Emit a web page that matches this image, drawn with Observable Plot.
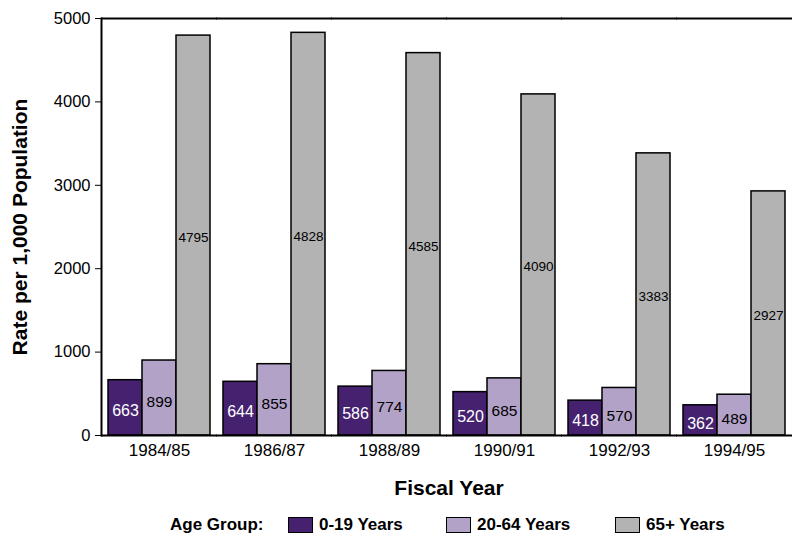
<!DOCTYPE html>
<html><head><meta charset="utf-8">
<script src="https://cdn.jsdelivr.net/npm/d3@7"></script>
<script src="https://cdn.jsdelivr.net/npm/@observablehq/plot@0.6"></script>
<style>
body{margin:0;background:#fff;font-family:"Liberation Sans",Arial,sans-serif;color:#000;}
#wrap{position:relative;width:793px;height:538px;overflow:hidden;}
#chart svg{display:block;}
#ytitle{position:absolute;left:20px;top:227px;transform:translate(-50%,-50%) rotate(-90deg);font-weight:bold;font-size:21px;white-space:nowrap;}
#xtitle{position:absolute;left:449px;top:488px;transform:translate(-50%,-50%);font-weight:bold;font-size:21px;white-space:nowrap;}
.lg{position:absolute;font-weight:bold;font-size:17px;white-space:nowrap;top:515px;}
.sw{position:absolute;top:517px;width:23px;height:14px;border:1.5px solid #000;}
</style>
</head><body>
<div id="wrap">
  <div id="chart"></div>
  <div id="ytitle">Rate per 1,000 Population</div>
  <div id="xtitle">Fiscal Year</div>
</div>
<script>
const years = ["1984/85","1986/87","1988/89","1990/91","1992/93","1994/95"];
const groups = ["0-19 Years","20-64 Years","65+ Years"];
const age0_19 = [663,644,586,520,418,362];
const age20_64 = [899,855,774,685,570,489];
const age65 = [4795,4828,4585,4090,3383,2927];
const yTicks = [0,1000,2000,3000,4000,5000];
const colors = ["#452170","#b2a2c7","#b3b3b3"];
const legendTitle = "Age Group:";

const series = [age0_19, age20_64, age65];
const rows = years.flatMap((yr,i)=>groups.map((g,j)=>({year:yr, group:g, value:series[j][i]})));

const plot = Plot.plot({
  width:793, height:505,
  marginLeft:100, marginRight:0, marginTop:18, marginBottom:70,
  style:{fontFamily:'"Liberation Sans",Arial,sans-serif', fontSize:"17px", color:"#000", background:"transparent", overflow:"visible"},
  fx:{domain:years, paddingInner:0.1, paddingOuter:0.05, label:null, axis:null},
  x:{domain:groups, padding:0, axis:null},
  y:{domain:[0,5000], axis:null},
  color:{domain:groups, range:colors},
  marks:[
    Plot.barY(rows,{fx:"year", x:"group", y:"value", fill:"group", stroke:"#000", strokeWidth:1.5}),
    Plot.text(rows.filter(d=>d.group===groups[0]),{fx:"year", x:"group", y:d=>d.value/2, text:d=>String(d.value), fill:"#fff", fontSize:16, dy:3}),
    Plot.text(rows.filter(d=>d.group===groups[1]),{fx:"year", x:"group", y:d=>d.value/2, text:d=>String(d.value), fill:"#000", fontSize:15.5, dy:4}),
    Plot.text(rows.filter(d=>d.group===groups[2]),{fx:"year", x:"group", y:d=>d.value/2, text:d=>String(d.value), fill:"#000", fontSize:13.5, dy:2}),
    Plot.axisFx({domain:years, anchor:"bottom", tickSize:0, tickPadding:8, label:null, fontSize:17}),
    Plot.ruleY([0,5000],{stroke:"#000", strokeWidth:2, insetLeft:-6, insetRight:-6}),
    Plot.axisY({anchor:"left", ticks:yTicks, tickSize:6, tickPadding:5, label:null, fontSize:16.5, tickFormat:d=>String(d), dx:-6}),
    Plot.frame({anchor:"left", facetAnchor:"left", stroke:"#000", strokeWidth:2, dx:-6})
  ]
});
document.getElementById("chart").appendChild(plot);

const wrap = document.getElementById("wrap");
const lt = document.createElement("div");
lt.className="lg"; lt.style.left="170px"; lt.textContent=legendTitle; wrap.appendChild(lt);
const swX=[288,446,615];
groups.forEach((g,i)=>{
  const s=document.createElement("div"); s.className="sw"; s.style.left=swX[i]+"px"; s.style.background=colors[i]; wrap.appendChild(s);
  const t=document.createElement("div"); t.className="lg"; t.style.left=(swX[i]+31)+"px"; t.textContent=g; wrap.appendChild(t);
});
</script>
</body></html>
